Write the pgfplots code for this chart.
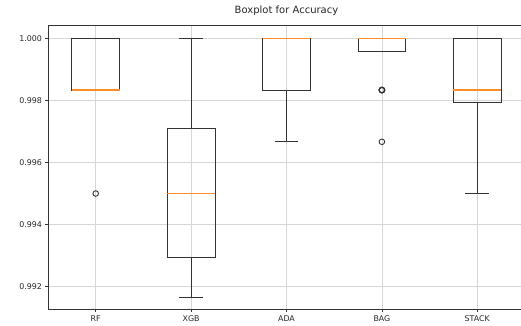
\documentclass[border=0pt]{standalone}
\usepackage{pgfplots}
\pgfplotsset{compat=1.18}
\usepgfplotslibrary{statistics}
\usepackage{fontspec}
\setmainfont{DejaVu Sans}
\definecolor{boxline}{HTML}{333333}
\definecolor{medline}{HTML}{FF8C2A}
\definecolor{gridc}{HTML}{D6D6D6}
\pgfplotsset{
  flier/.style={boxline, mark=o, mark size=2.8pt, mark options={line width=0.9pt, fill=white}},
}
\begin{document}
\begin{tikzpicture}
\begin{axis}[
  name=ax,
  scale only axis,
  width=477pt, height=284.3pt,
  xmin=0.5, xmax=5.5,
  ymin=0.991271, ymax=1.000429,
  xtick={1,2,3,4,5},
  xticklabels={RF,XGB,ADA,BAG,STACK},
  ytick={0.992,0.994,0.996,0.998,1.000},
  yticklabel style={/pgf/number format/.cd, fixed, fixed zerofill, precision=3},
  /pgf/number format/assume math mode=true,
  ticklabel style={font=\fontsize{7.9}{9}\selectfont, text=black!85},
  xticklabel style={yshift=-0.5pt},
  tick pos=left,
  tick align=outside,
  major tick length=2.6pt,
  tick style={boxline, line width=0.6pt},
  axis line style={boxline, line width=0.7pt},
  xmajorgrids, ymajorgrids,
  grid style={gridc, line width=0.7pt},
  title={Boxplot for Accuracy},
  title style={at={(0.5,1)}, anchor=base, yshift=5pt, font=\fontsize{10}{12}\selectfont, text=black!85},
  boxplot/draw direction=y,
  boxplot/box extend=0.5,
  boxplot/whisker extend=0.25,
  boxplot/every box/.style={draw=boxline, line width=0.9pt},
  boxplot/every whisker/.style={draw=boxline, line width=0.9pt},
  boxplot/every median/.style={draw=medline, line width=1.2pt},
]
% RF
\addplot[flier, boxplot prepared={draw position=1, lower whisker=0.998333, lower quartile=0.998333,
    median=0.998333, upper quartile=1.0, upper whisker=1.0}]
  table[row sep=\\, y index=0] {y\\ 0.995\\};
% XGB
\addplot[flier, boxplot prepared={draw position=2, lower whisker=0.991667, lower quartile=0.992934,
    median=0.995, upper quartile=0.9971, upper whisker=1.0}]
  coordinates {};
% ADA
\addplot[flier, boxplot prepared={draw position=3, lower whisker=0.996667, lower quartile=0.998333,
    median=1.0, upper quartile=1.0, upper whisker=1.0}]
  coordinates {};
% BAG (two folds share the 0.998333 outlier)
\addplot[flier, boxplot prepared={draw position=4, lower whisker=0.999569, lower quartile=0.999569,
    median=1.0, upper quartile=1.0, upper whisker=1.0},
  mark options={line width=1.2pt}]
  table[row sep=\\, y index=0] {y\\ 0.998333\\ 0.998333\\};
\addplot[flier, boxplot prepared={draw position=4, lower whisker=0.999569, lower quartile=0.999569,
    median=1.0, upper quartile=1.0, upper whisker=1.0}]
  table[row sep=\\, y index=0] {y\\ 0.996667\\};
% STACK
\addplot[flier, boxplot prepared={draw position=5, lower whisker=0.995, lower quartile=0.997926,
    median=0.998333, upper quartile=1.0, upper whisker=1.0}]
  coordinates {};
% XGB median, restated across the box width so it stays orange
\addplot[medline, line width=1.2pt, mark=none] coordinates {(1.75,0.995) (2.25,0.995)};
\end{axis}
\pgfresetboundingbox
\path[use as bounding box] (-48pt,-15.7pt) rectangle (473pt,309.3pt);
\end{tikzpicture}
\end{document}
